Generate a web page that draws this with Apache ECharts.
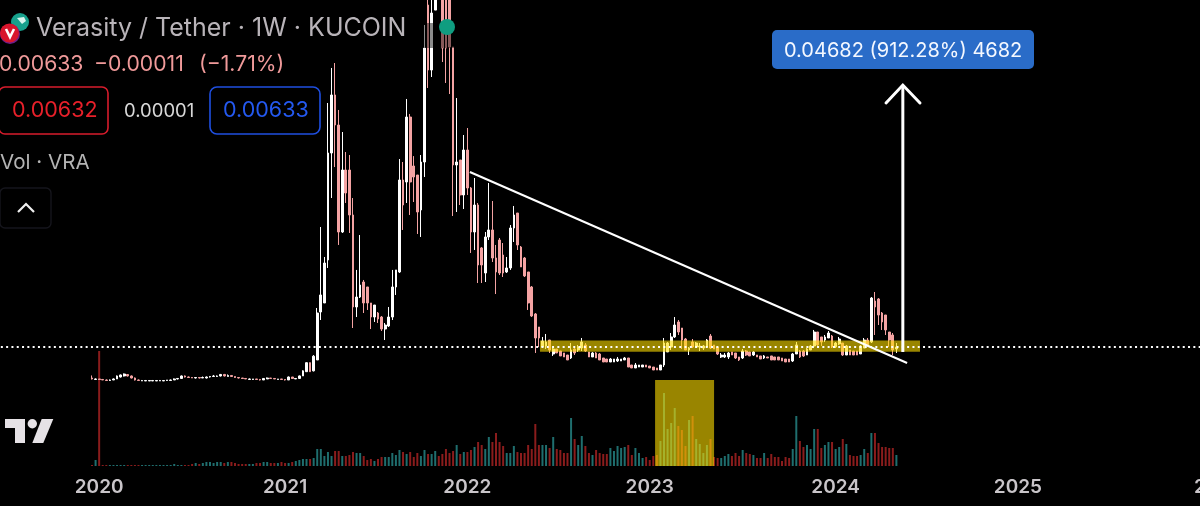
<!DOCTYPE html>
<html><head><meta charset="utf-8">
<style>html,body{margin:0;padding:0;background:#000}#c{width:1200px;height:506px}</style>
<script src="https://cdn.jsdelivr.net/npm/echarts@6/dist/echarts.min.js"></script>
</head><body><div id="c"></div>
<script>
// Weekly VRA/USDT prices, in units of 0.001 USDT.
const opens = [
.83,.57,.66,.57,.48,.39,.48,.66,1.01,1.19,1.45,1.19,.83,.48,.30,.30,.30,.30,.30,.30,.30,.39,.39,.48,.66,.75,1.19,1.01,.92,.83,.92,.83,.83,1.01,1.10,1.10,1.19,1.46,1.10,1.28,1.10,.92,.83,.75,.57,.57,.66,.57,.48,.66,.83,.75,.57,.66,.57,.48,1.01,.66,.75,1.2,1.95,3.55,2.1,
4.03,12.54,14.14,21.77,40.75,51.04,45.71,26.73,37.73,37.73,29.75,13.43,15.20,17.86,16.98,14.14,11.65,12.36,11.65,9.52,10.06,11.65,16.98,19.64,35.96,35.6,47.13,38.44,36.84,30.64,39.15,67.0,55.47,66.1,78,70,68,69,59.55,38.62,39.5,33.3,41.28,34.54,26.73,31.52,23.9,19.46,25.85,27.09,22.12,25.31,22.65,19.64,20.35,27.44,30.1,24.07,22.12,19.64,16.98,12.19,9.88,6.33,6.51,7.57,5.09,5.98,5.62,5.27,4.91,4.38,5.98,5.8,6.15,6.69,5.45,4.56,5.27,5.09,4.38,4.2,3.67,3.67,3.85,3.85,4.03,4.38,3.14,2.61,2.78,2.78,3.14,2.96,2.78,2.61,2.25,3.14,5.45,6.33,8.11,10.77,9.7,7.75,5.8,7.22,6.33,6.33,6.15,6.33,8.28,6.69,6.33,4.56,4.56,4.56,5.45,5.27,4.56,4.38,5.62,5.45,4.91,4.91,4.74,4.38,4.56,4.74,4.56,4.56,4.38,4.2,4.2,3.85,5.09,5.62,5.62,4.91,5.8,6.51,8.99,8.11,7.57,7.93,8.28,6.33,6.87,7.04,4.91,5.8,5.62,5.62,5.09,6.15,7.57,7.22,14.49,14.85,12.36,12.01,8.99,8.46,5.98];
const closes = [
.66,.66,.57,.48,.39,.48,.66,1.19,1.37,1.54,1.19,.83,.48,.39,.39,.39,.39,.39,.39,.39,.39,.48,.48,.66,.75,1.19,1.01,.92,.83,.92,.83,.92,1.01,1.10,1.19,1.19,1.46,1.19,1.28,1.10,.92,.83,.75,.66,.66,.66,.57,.48,.75,.83,.75,.66,.66,.57,.48,1.01,.75,.75,1.2,2.1,3.55,1.95,4.7,
12.36,15.56,21.23,40.75,51.04,45.71,26.73,37.73,33.65,29.75,13.43,15.20,17.33,14.14,14.14,11.65,13.78,11.30,9.52,10.23,11.65,16.98,20.0,35.96,31.52,47.13,35.6,36.49,30.28,39.15,59.37,55.47,65.58,72,74,59.37,59.37,59.55,38.62,39.15,33.3,41.28,34.54,26.73,31.52,20.88,20.88,25.85,27.09,22.12,19.64,19.46,19.46,20.35,27.44,29.75,24.43,20.53,18.93,14.14,11.83,7.93,7.93,7.4,7.22,5.8,5.98,5.27,4.74,4.56,4.03,5.8,5.27,6.33,7.22,5.62,4.56,5.27,4.38,4.03,3.67,3.67,4.2,4.2,4.2,4.2,4.38,2.78,2.61,3.14,3.14,3.14,2.78,2.61,2.25,2.25,3.14,7.04,7.04,8.11,10.23,8.99,7.57,5.8,6.15,6.33,7.04,6.51,6.51,7.57,6.15,5.98,5.09,4.91,4.91,5.27,4.91,4.38,4.03,5.62,4.91,4.74,5.45,4.56,4.2,4.74,4.38,4.03,4.03,4.03,3.85,3.67,3.67,5.09,6.69,4.56,4.74,5.98,6.51,8.99,6.69,7.22,8.11,8.81,6.33,7.04,7.75,4.91,6.51,4.91,4.91,4.91,6.51,7.57,6.69,15.02,13.43,12.01,10.77,9.35,7.57,5.8,6.33];
const lows = [
.57,.57,.48,.48,.39,.30,.48,.66,.92,1.10,1.10,.75,.39,.30,.30,.30,.30,.30,.30,.30,.30,.30,.39,.48,.57,.75,.92,.83,.83,.75,.75,.83,.75,.92,1.01,1.01,1.10,1.10,1.10,1.01,.83,.75,.66,.66,.57,.48,.57,.39,.48,.66,.66,.66,.57,.48,.39,.48,.66,.66,.75,1.2,1.9,1.9,2.0,
4.03,11.12,14.14,20.35,32.76,38.26,24.43,26.56,31.88,26.56,9.70,11.65,15.02,12.36,12.9,9.52,10.77,10.59,9.17,7.57,9.88,11.12,15.56,19.46,27.09,31.88,29.75,32.05,26.38,25.85,36.49,52.28,54.23,66.1,70,56.89,53.17,51.21,29.57,30.28,31.52,30.81,33.3,23.01,23.54,17.68,17.68,17.86,25.31,21.41,15.73,19.1,18.75,19.46,20.0,24.96,23.54,20.53,18.75,12.9,11.65,5.27,6.33,6.33,5.98,5.27,4.74,5.27,4.74,4.56,4.03,4.2,4.91,5.45,5.62,5.45,4.56,4.56,4.38,4.03,3.67,3.67,3.67,3.67,3.67,3.85,4.03,2.78,2.61,2.61,2.78,2.78,2.78,2.61,2.25,2.25,2.25,2.78,5.45,5.8,7.93,8.46,5.98,5.8,4.91,6.15,6.15,5.62,5.8,6.15,5.98,5.98,4.91,4.38,4.38,4.2,4.91,4.2,3.85,4.2,4.74,4.74,4.74,4.56,4.2,4.2,4.38,4.03,4.03,4.03,3.85,3.67,3.67,3.67,5.09,4.38,4.56,4.91,5.8,6.15,6.51,6.51,7.22,7.93,6.15,6.15,6.69,4.74,4.91,4.91,4.91,4.91,5.09,6.15,6.69,7.04,8.46,10.23,9.35,8.46,6.33,4.91,5.27];
const highs = [
1.28,.75,.66,.66,.57,.57,.75,1.28,1.45,1.63,1.54,1.28,.92,.57,.48,.48,.39,.48,.39,.48,.39,.48,.57,.75,.83,1.28,1.28,1.10,1.01,1.01,1.01,1.10,1.10,1.19,1.37,1.28,1.55,1.55,1.46,1.28,1.10,.92,.83,.75,.75,.66,.66,.66,.83,.92,.83,.75,.66,.66,.57,1.10,1.01,.83,1.28,2.2,3.6,3.6,4.9,
13.25,27.62,22.30,49.62,55.83,56.71,48.38,44.47,40.92,40.39,32.76,20.0,26.2,18.22,16.98,14.14,13.78,12.54,11.83,10.59,13.43,20.0,20.0,39.68,39.15,50.33,47.67,40.2,36.84,40.39,63.46,70,72,76,82,74,72,72,59.55,50.5,39.5,43.94,45.18,34.72,36.31,31.88,24.07,26.73,35.42,32.23,24.43,25.67,24.78,22.3,27.97,31.35,30.1,24.25,22.3,19.64,17.15,12.36,9.88,8.11,8.64,7.57,6.16,5.98,5.62,5.27,4.91,7.04,6.33,6.69,7.93,7.04,5.45,5.45,5.45,5.27,4.38,4.2,4.38,4.2,4.56,4.2,4.56,4.38,3.14,3.49,3.14,3.14,3.14,2.96,2.78,2.61,3.14,7.93,7.22,8.81,11.65,11.12,9.7,7.93,6.33,7.75,7.22,7.04,6.69,7.75,8.64,6.69,6.33,5.27,5.27,5.45,5.45,5.27,4.56,5.98,5.8,5.45,5.62,4.91,4.74,4.91,4.56,4.74,4.56,4.56,4.38,4.2,4.2,5.27,7.22,5.8,5.8,6.16,6.69,9.35,8.99,8.11,8.46,9.17,8.46,7.22,8.11,7.04,6.69,5.8,5.62,5.62,6.69,7.93,7.93,15.2,16.09,15.02,12.54,12.01,8.99,8.81,7.04];
// Weekly volume, relative units.
const volumes = [
1,6,115,1,1,1,1,1,1,1,1,1,1,1,1,1,1,1,1,1,1,1,1,2,1,1,1,1,2,3,2,3,4,4,3,4,4,3,4,4,3,2,2,2,2,2,3,3,4,4,3,3,3,4,3,3,4,5,
6,7,7,7,8,17,17,10,14,10,15,15,10,10,11,14,13,13,10,6,7,5,7,9,9,9,13,11,16,14,12,14,9,13,10,16,12,12,15,10,12,17,13,15,21,12,14,14,16,19,24,21,17,29,24,33,24,20,13,13,20,14,13,13,21,17,42,21,21,21,18,29,17,16,13,13,48,27,21,30,20,13,11,16,
13,12,12,18,15,20,18,19,21,11,18,13,8,9,6,10,11,25,73,37,43,58,40,36,20,46,50,27,22,13,21,27,9,8,
8,10,12,10,13,10,16,13,12,11,8,
8,13,8,12,9,9,5,9,8,17,50,25,19,21,17,37,37,18,21,24,24,17,19,27,22,11,10,10,11,17,13,33,33,23,19,19,18,18,11];
const yearLabels = ['2020','2021','2022','2023','2024','2025','2026'];
const yearBars = [2,54,105,156,208,259,315];

const lastPrice = 6.33;
const trendWeeks = [105.7,228], trendPrices = [37.38,3.49];
const arrowWeeks = [226.8,226.8], arrowPrices = [5.44,52.8];
const headWeeks = [222.1,226.8,231.6], headPrices = [49.62,52.8,49.62];
const bandWeeks = [125.3,231.6], bandPrices = [7.5,5.5];
const boxWeeks = [157.5,174], boxVolumes = [0,86];

const BAR_OFFSET = 25, SLOTS = 345;
const categories = new Array(SLOTS).fill('');
yearBars.forEach((b,k)=>{categories[b+BAR_OFFSET]=yearLabels[k];});
const pad = new Array(BAR_OFFSET).fill('-');
const candle = pad.concat(opens.map((o,i)=>[o,closes[i],lows[i],highs[i]]));
const UP='#ffffff', DOWN='#f4a3a3', VUP='#1f6e6e', VDOWN='#8a1c1c', YEL='rgba(255,222,0,0.6)';
const volData = pad.concat(volumes.map((v,i)=>({value:v,itemStyle:{color:closes[i]>=opens[i]?VUP:VDOWN}})));
const F='Inter, "Open Sans", sans-serif';
const pts=(xs,ys)=>xs.map((x,i)=>[x,ys[i]]);

const chart=echarts.init(document.getElementById('c'),null,{renderer:'canvas'});
const text=(x,y,t,fill,size,extra)=>({type:'text',z:100,x,y,style:Object.assign({text:t,fill,font:`${size}px ${F}`,textVerticalAlign:'middle'},extra||{})});
chart.setOption({
 animation:false, backgroundColor:'#000',
 grid:{left:0.84,top:0,width:1233.4,height:466,containLabel:false,outerBoundsMode:'none'},
 xAxis:[
  {type:'category',data:categories,boundaryGap:true,axisLine:{show:false},axisTick:{show:false},splitLine:{show:false},
   axisLabel:{interval:0,hideOverlap:false,margin:12,color:'#c9c5c9',fontFamily:F,fontSize:19,fontWeight:600,showMinLabel:true,showMaxLabel:true}},
  {type:'value',show:false,min:-BAR_OFFSET-0.5,max:SLOTS-BAR_OFFSET-0.5,splitLine:{show:false}}
 ],
 yAxis:[
  {type:'value',show:false,min:-14.78,max:67.89,splitLine:{show:false},scale:false},
  {type:'value',show:false,min:0,max:466,splitLine:{show:false}}
 ],
 series:[
  {type:'bar',xAxisIndex:0,yAxisIndex:1,data:volData,barWidth:2,z:1,silent:true},
  {type:'candlestick',xAxisIndex:0,yAxisIndex:0,data:candle,barWidth:2.2,z:2,silent:true,
   itemStyle:{color:UP,color0:DOWN,borderColor:UP,borderColor0:DOWN,borderWidth:1}},
  {type:'line',xAxisIndex:1,yAxisIndex:0,data:pts(trendWeeks,trendPrices),showSymbol:false,z:4,silent:true,lineStyle:{color:'#fff',width:2},
   markArea:{z:3,silent:true,itemStyle:{color:YEL},data:[[{xAxis:bandWeeks[0],yAxis:bandPrices[0]},{xAxis:bandWeeks[1],yAxis:bandPrices[1]}]]},
   markLine:{z:5,silent:true,symbol:'none',label:{show:false},lineStyle:{color:'#fff',width:2,type:[2,3.3]},data:[{yAxis:lastPrice}]}},
  {type:'line',xAxisIndex:1,yAxisIndex:0,data:pts(arrowWeeks,arrowPrices),showSymbol:false,z:6,silent:true,lineStyle:{color:'#fff',width:3}},
  {type:'line',xAxisIndex:1,yAxisIndex:0,data:pts(headWeeks,headPrices),showSymbol:false,z:6,silent:true,lineStyle:{color:'#fff',width:3,cap:'round',join:'miter'}},
  {type:'line',xAxisIndex:1,yAxisIndex:1,data:[],showSymbol:false,z:3,silent:true,
   markArea:{z:3,silent:true,itemStyle:{color:YEL},data:[[{xAxis:boxWeeks[0],yAxis:boxVolumes[0]},{xAxis:boxWeeks[1],yAxis:boxVolumes[1]}]]}}
 ],
 graphic:[
  {type:'rect',z:90,shape:{x:0,y:23,width:455,height:25},style:{fill:'rgba(0,0,0,0.45)'}},
  {type:'circle',z:100,x:447,y:27,shape:{r:8},style:{fill:'#0f9d80'}},
  {type:'circle',z:100,x:20,y:22,shape:{r:9},style:{fill:'#17a08c'}},
  {type:'polygon',z:101,shape:{points:[[17,18],[24,17],[26,21],[22,24]]},style:{fill:'#d8f4ee'}},
  {type:'circle',z:101,x:10,y:34,shape:{r:10},style:{fill:'#6a1e8c'}},
  {type:'circle',z:102,x:9.5,y:33,shape:{r:9.5},style:{fill:'#d8152c'}},
  {type:'polyline',z:103,shape:{points:[[6,29],[10,37],[14,29]]},style:{stroke:'#fff',lineWidth:2.6,fill:null}},
  text(36,28,'Verasity / Tether · 1W · KUCOIN','#b9b4b9',25),
  text(-1,65,'0.00633','#f09a9a',21.2),
  text(94,65,'−0.00011','#f09a9a',21.2),
  text(199,65,'(−1.71%)','#f09a9a',21.2),
  {type:'rect',z:100,shape:{x:-1,y:87,width:109,height:47,r:6},style:{fill:'none',stroke:'#d81c2c',lineWidth:1.6}},
  text(12,111,'0.00632','#e8202a',21.5),
  text(124,111,'0.00001','#d8d8d8',18.5),
  {type:'rect',z:100,shape:{x:210,y:87,width:110,height:47,r:7},style:{fill:'none',stroke:'#1f4fe0',lineWidth:1.6}},
  text(223,111,'0.00633','#2459f0',21.5),
  text(0,163,'Vol · VRA','#b4b4b4',20.6),
  {type:'rect',z:100,shape:{x:0,y:188,width:51,height:40,r:5},style:{fill:'none',stroke:'#15151c',lineWidth:1.4}},
  {type:'polyline',z:100,shape:{points:[[18,212],[26,204],[34,212]]},style:{stroke:'#f0f0f0',lineWidth:2.2,fill:null}},
  {type:'polygon',z:100,shape:{points:[[5,419],[25,419],[25,443],[15,443],[15,428],[5,428]]},style:{fill:'#e6e2e6'}},
  {type:'circle',z:100,x:32.3,y:423.7,shape:{r:4.7},style:{fill:'#e6e2e6'}},
  {type:'polygon',z:100,shape:{points:[[41.7,419],[53.3,419],[43.3,443],[32.3,443]]},style:{fill:'#e6e2e6'}},
  {type:'rect',z:100,shape:{x:772,y:30,width:262,height:39,r:5},style:{fill:'#2a6cc8'}},
  text(784,51,'0.04682 (912.28%) 4682','#f4f8ff',20)
 ]
});
</script></body></html>
